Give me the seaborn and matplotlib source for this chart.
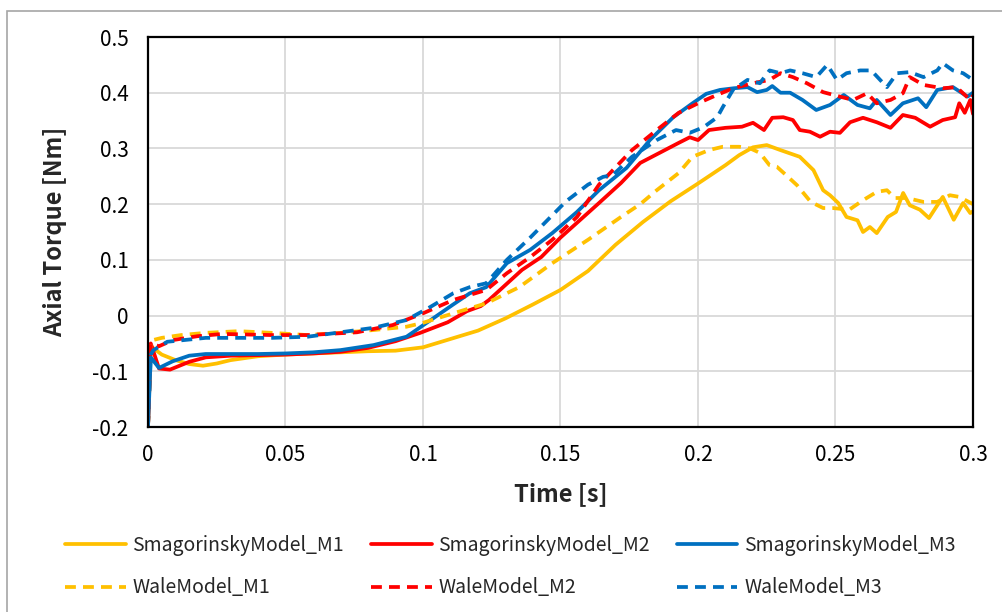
import numpy as np
import pandas as pd
import matplotlib
matplotlib.use("Agg")
import matplotlib.pyplot as plt
from matplotlib.patches import Rectangle
from matplotlib.ticker import FixedLocator, FixedFormatter
import seaborn as sns

# ---- data -------------------------------------------------------------
smag_m1_t = [0, 0.001, 0.005, 0.01, 0.015, 0.02, 0.025, 0.03, 0.04, 0.05, 0.06, 0.07,
             0.08, 0.09, 0.1, 0.11, 0.12, 0.13, 0.14, 0.15, 0.16, 0.17, 0.18, 0.19, 0.2,
             0.21, 0.215, 0.22, 0.225, 0.23, 0.237, 0.242, 0.2455, 0.248, 0.251, 0.254,
             0.258, 0.26, 0.2625, 0.265, 0.269, 0.272, 0.2746, 0.277, 0.2807, 0.284,
             0.289, 0.293, 0.2964, 0.299, 0.3]
smag_m1_v = [-0.2, -0.055, -0.07, -0.08, -0.087, -0.09, -0.086, -0.08, -0.073, -0.07,
             -0.068, -0.066, -0.064, -0.063, -0.057, -0.042, -0.027, -0.005, 0.02, 0.046,
             0.08, 0.127, 0.168, 0.205, 0.237, 0.27, 0.288, 0.302, 0.306, 0.297, 0.285,
             0.261, 0.225, 0.216, 0.202, 0.177, 0.171, 0.15, 0.159, 0.148, 0.177, 0.186,
             0.22, 0.198, 0.19, 0.175, 0.213, 0.172, 0.202, 0.184, 0.187]

wale_m1_t = [0, 0.001, 0.005, 0.012, 0.021, 0.033, 0.045, 0.058, 0.07, 0.082, 0.094,
             0.1, 0.111, 0.123, 0.135, 0.147, 0.16, 0.172, 0.179, 0.185, 0.193, 0.198,
             0.204, 0.209, 0.215, 0.219, 0.2225, 0.226, 0.2287, 0.2325, 0.236, 0.241,
             0.2455, 0.249, 0.255, 0.26, 0.265, 0.2687, 0.2716, 0.276, 0.282, 0.287,
             0.2916, 0.295, 0.3]
wale_m1_v = [-0.2, -0.045, -0.04, -0.035, -0.031, -0.028, -0.031, -0.035, -0.031,
             -0.026, -0.02, -0.013, 0.004, 0.022, 0.051, 0.094, 0.136, 0.177, 0.2, 0.225,
             0.256, 0.285, 0.297, 0.303, 0.303, 0.3, 0.292, 0.27, 0.267, 0.25, 0.234,
             0.204, 0.193, 0.193, 0.19, 0.207, 0.222, 0.225, 0.211, 0.211, 0.204, 0.204,
             0.216, 0.213, 0.2]

smag_m2_t = [0, 0.001, 0.004, 0.008, 0.015, 0.021, 0.03, 0.04, 0.05, 0.06, 0.07, 0.08,
             0.09, 0.099, 0.109, 0.116, 0.121, 0.124, 0.13, 0.136, 0.143, 0.15, 0.157,
             0.164, 0.172, 0.179, 0.186, 0.193, 0.197, 0.2, 0.204, 0.21, 0.216, 0.22,
             0.224, 0.227, 0.231, 0.2345, 0.237, 0.2407, 0.2444, 0.248, 0.2516, 0.2553,
             0.26, 0.265, 0.27, 0.2745, 0.279, 0.2844, 0.289, 0.2935, 0.295, 0.297,
             0.299, 0.3]
smag_m2_v = [-0.2, -0.05, -0.095, -0.097, -0.083, -0.075, -0.072, -0.071, -0.07, -0.068,
             -0.065, -0.058, -0.046, -0.031, -0.012, 0.008, 0.017, 0.028, 0.055, 0.082,
             0.105, 0.14, 0.171, 0.202, 0.238, 0.274, 0.292, 0.31, 0.32, 0.315, 0.333,
             0.337, 0.339, 0.346, 0.333, 0.355, 0.356, 0.351, 0.333, 0.33, 0.321, 0.33,
             0.328, 0.347, 0.355, 0.347, 0.337, 0.36, 0.355, 0.339, 0.351, 0.356, 0.381,
             0.364, 0.387, 0.362]

smag_m3_t = [0, 0.001, 0.004, 0.009, 0.015, 0.021, 0.03, 0.04, 0.05, 0.06, 0.07, 0.082,
             0.094, 0.099, 0.111, 0.117, 0.123, 0.1305, 0.139, 0.147, 0.156, 0.164,
             0.174, 0.1825, 0.191, 0.198, 0.203, 0.208, 0.213, 0.218, 0.2215, 0.225,
             0.227, 0.23, 0.2335, 0.238, 0.243, 0.248, 0.253, 0.258, 0.2625, 0.265,
             0.27, 0.2745, 0.28, 0.283, 0.287, 0.2927, 0.298, 0.3]
smag_m3_v = [-0.2, -0.075, -0.094, -0.082, -0.072, -0.069, -0.069, -0.069, -0.068,
             -0.066, -0.062, -0.053, -0.038, -0.021, 0.02, 0.04, 0.051, 0.094, 0.118,
             0.148, 0.186, 0.225, 0.265, 0.315, 0.356, 0.381, 0.398, 0.405, 0.408, 0.41,
             0.401, 0.405, 0.412, 0.4, 0.4, 0.387, 0.369, 0.378, 0.396, 0.378, 0.372,
             0.387, 0.36, 0.381, 0.39, 0.374, 0.405, 0.41, 0.393, 0.4]

wale_m2_t = [0, 0.001, 0.004, 0.009, 0.018, 0.027, 0.045, 0.058, 0.076, 0.089, 0.1,
             0.111, 0.123, 0.1305, 0.139, 0.147, 0.156, 0.164, 0.176, 0.185, 0.193, 0.2,
             0.2055, 0.2127, 0.22, 0.226, 0.23, 0.2345, 0.2396, 0.2455, 0.2516, 0.2564,
             0.2615, 0.265, 0.27, 0.2745, 0.277, 0.282, 0.289, 0.294, 0.299, 0.3]
wale_m2_v = [-0.2, -0.05, -0.055, -0.044, -0.037, -0.033, -0.035, -0.035, -0.03, -0.017,
             0.004, 0.028, 0.046, 0.076, 0.105, 0.136, 0.177, 0.235, 0.297, 0.333, 0.364,
             0.381, 0.393, 0.408, 0.417, 0.423, 0.435, 0.428, 0.417, 0.401, 0.393, 0.387,
             0.399, 0.381, 0.387, 0.399, 0.428, 0.414, 0.408, 0.41, 0.387, 0.395]

wale_m3_t = [0, 0.001, 0.002, 0.007, 0.021, 0.033, 0.045, 0.058, 0.07, 0.082, 0.094,
             0.1025, 0.111, 0.117, 0.123, 0.1305, 0.139, 0.147, 0.152, 0.16, 0.1655,
             0.169, 0.176, 0.185, 0.192, 0.197, 0.202, 0.207, 0.209, 0.2127, 0.218,
             0.2225, 0.226, 0.23, 0.2335, 0.238, 0.243, 0.247, 0.2505, 0.254, 0.259,
             0.263, 0.2687, 0.2724, 0.277, 0.282, 0.287, 0.289, 0.2927, 0.2964, 0.3]
wale_m3_v = [-0.2, -0.07, -0.062, -0.047, -0.04, -0.04, -0.04, -0.038, -0.03, -0.022,
             -0.008, 0.015, 0.04, 0.051, 0.058, 0.1, 0.14, 0.18, 0.205, 0.235, 0.249,
             0.252, 0.285, 0.315, 0.333, 0.328, 0.338, 0.356, 0.374, 0.405, 0.423, 0.417,
             0.44, 0.435, 0.44, 0.435, 0.428, 0.45, 0.423, 0.435, 0.44, 0.44, 0.41, 0.435,
             0.437, 0.428, 0.44, 0.453, 0.44, 0.435, 0.423]

series_names = ["SmagorinskyModel_M1", "SmagorinskyModel_M2", "SmagorinskyModel_M3",
                "WaleModel_M1", "WaleModel_M2", "WaleModel_M3"]
series_t = [smag_m1_t, smag_m2_t, smag_m3_t, wale_m1_t, wale_m2_t, wale_m3_t]
series_v = [smag_m1_v, smag_m2_v, smag_m3_v, wale_m1_v, wale_m2_v, wale_m3_v]

x_ticks = [0, 0.05, 0.1, 0.15, 0.2, 0.25, 0.3]
x_tick_labels = ["0", "0.05", "0.1", "0.15", "0.2", "0.25", "0.3"]
y_ticks = [-0.2, -0.1, 0, 0.1, 0.2, 0.3, 0.4, 0.5]
y_tick_labels = ["-0.2", "-0.1", "0", "0.1", "0.2", "0.3", "0.4", "0.5"]

x_label = "Time [s]"
y_label = "Axial Torque [Nm]"

# ---- styling ----------------------------------------------------------
YELLOW, RED, BLUE = "#FFC000", "#FF0000", "#0070C0"
palette = dict(zip(series_names, [YELLOW, RED, BLUE, YELLOW, RED, BLUE]))
dash = (2.9, 1.9)
dashes = dict(zip(series_names, ["", "", "", dash, dash, dash]))

sns.set_style("white")
plt.rcParams["font.family"] = ["Noto Sans CJK KR", "DejaVu Sans"]

df = pd.concat(
    [pd.DataFrame({"t": t, "v": v, "series": name})
     for name, t, v in zip(series_names, series_t, series_v)],
    ignore_index=True,
)

fig = plt.figure(figsize=(10.03, 6.12), dpi=100)
ax = fig.add_axes([148 / 1003, 1 - 427 / 612, (973 - 148) / 1003, (427 - 37) / 612])

sns.lineplot(data=df, x="t", y="v", hue="series", style="series",
             hue_order=series_names, style_order=series_names,
             palette=palette, dashes=dashes, estimator=None, sort=False,
             linewidth=2.7, ax=ax, legend=True)

ax.set_xlim(0, 0.3)
ax.set_ylim(-0.2, 0.5)
ax.xaxis.set_major_locator(FixedLocator(x_ticks))
ax.xaxis.set_major_formatter(FixedFormatter(x_tick_labels))
ax.yaxis.set_major_locator(FixedLocator(y_ticks))
ax.yaxis.set_major_formatter(FixedFormatter(y_tick_labels))
ax.tick_params(length=0, labelsize=15, colors="#000000")
ax.tick_params(axis="x", pad=12)
ax.tick_params(axis="y", pad=14)
ax.grid(True, color="#D9D9D9", linewidth=1.3)
ax.set_axisbelow(True)
for sp in ax.spines.values():
    sp.set_visible(True)
    sp.set_color("#000000")
    sp.set_linewidth(1.6)

ax.set_xlabel(x_label, fontsize=17, fontweight="bold", labelpad=12)
ax.set_ylabel(y_label, fontsize=17, fontweight="bold", labelpad=18)

# legend: two rows, Smagorinsky models on top, Wale models below
handles, labels = ax.get_legend_handles_labels()
ax.get_legend().remove()
lookup = dict(zip(labels, handles))
order = [series_names[0], series_names[3], series_names[1],
         series_names[4], series_names[2], series_names[5]]
fig.legend([lookup[n] for n in order], order, ncol=3, frameon=False,
           loc="center", bbox_to_anchor=(0.509, 0.074), fontsize=14,
           handlelength=3.1, handletextpad=0.35, columnspacing=1.4,
           labelspacing=1.1)

# outer chart-area frame
fig.add_artist(Rectangle((7 / 1003, -0.05), 1.2, 1 - 11 / 612 + 0.05,
                         transform=fig.transFigure, fill=False,
                         edgecolor="#A6A6A6", linewidth=1.2))

fig.savefig("out.png", dpi=100)
